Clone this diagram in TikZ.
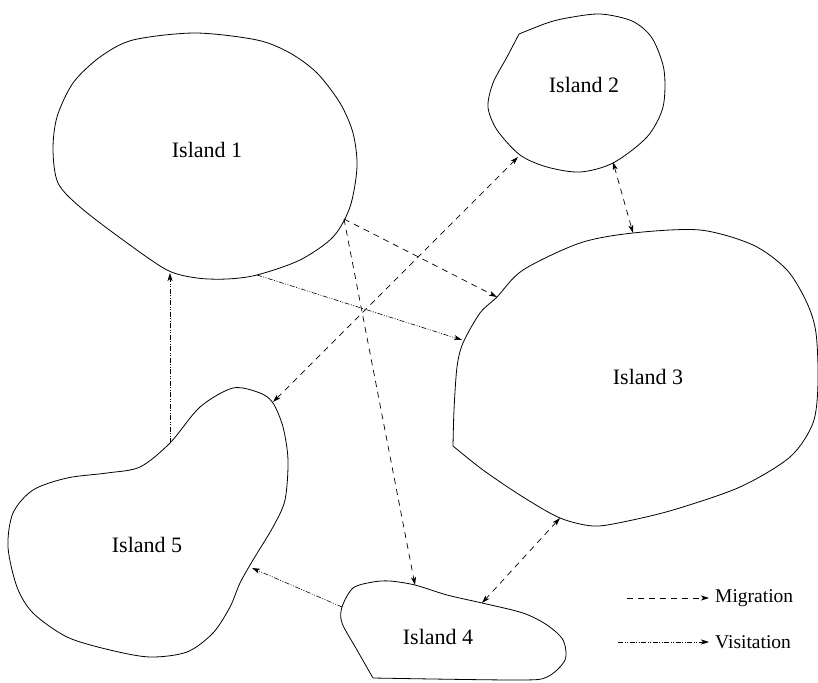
\documentclass[tikz,border=0pt]{standalone}
\usepackage{fontspec}
\setmainfont{Liberation Serif}
\usetikzlibrary{arrows.meta}
\begin{document}
\begin{tikzpicture}[x=1pt,y=-1pt,
  coast/.style={line width=0.8pt},
  mig/.style={line width=0.7pt, dash pattern=on 6pt off 5pt},
  vis/.style={line width=0.6pt, dash pattern=on 5pt off 1.5pt on 1pt off 1.5pt on 1pt off 1.5pt},
  tip/.style={-{Stealth[length=8pt,width=5pt,inset=2pt]}},
  twotips/.style={{Stealth[length=8pt,width=5pt,inset=2pt]}-{Stealth[length=8pt,width=5pt,inset=2pt]}},
  lab/.style={font=\fontsize{22}{26}\selectfont},
  leg/.style={font=\fontsize{19.5}{23}\selectfont, anchor=west, inner sep=0pt}]
\useasboundingbox (0,0) rectangle (818,682);

% Island 1
\draw[coast] plot[smooth cycle] coordinates {
 (195,33) (257,40) (290,53) (317,73) (340,103) (353,133) (357,167) (350,207)
 (333,237) (300,260) (257,275) (227,279) (197,278) (167,270) (123,240) (80,207)
 (58,183) (53,150) (57,117) (73,83) (100,57) (133,40)};
% Island 2
\draw[coast] plot[smooth] coordinates {
 (519,34) (547,23) (567,18) (600,14) (632,21) (652,38) (664,70) (663,107) (647,137)
 (613,163) (580,172) (547,167) (520,155) (497,130) (488,107) (493,83) (507,57) (519,34)};
% Island 3
\draw[coast] plot[smooth] coordinates {
 (453,446) (483,470) (523,497) (560,518) (593,526) (623,522) (673,510) (740,487)
 (790,457) (813,423) (818,383) (816,333) (807,303) (787,270) (753,245) (700,230)
 (633,233) (580,243) (523,270) (497,297) (480,313) (463,343) (457,367) (454,410) (453,446)};
% Island 4
\draw[coast] plot[smooth] coordinates {
 (373,678) (357,650) (342,623) (342,607) (353,588) (373,582) (390,581) (415,585)
 (447,595) (482,603) (523,613) (547,625) (563,640) (565,660) (547,677) (517,680) (373,678)};
% Island 5
\draw[coast] plot[smooth cycle] coordinates {
 (233,388) (260,393) (273,403) (283,427) (288,460) (285,500) (273,527) (253,560)
 (240,583) (230,607) (213,633) (187,652) (150,657) (110,650) (67,637) (33,613)
 (17,587) (8,547) (13,513) (33,490) (67,478) (107,473) (140,467) (170,443) (200,407)};

\node[lab] (l1) at (207,150) {Island 1};
\node[lab] (l2) at (584,85) {Island 2};
\node[lab] (l3) at (648,377) {Island 3};
\node[lab] (l4) at (438,637) {Island 4};
\node[lab] (l5) at (147,545) {Island 5};

% boundary points
\coordinate (p1ne) at (344,219);
\coordinate (p1s) at (257,275);
\coordinate (p1b) at (170,273);
\coordinate (p2sw) at (518,157);
\coordinate (p2s) at (613,162);
\coordinate (p3n) at (633,233);
\coordinate (p3nw) at (497,297);
\coordinate (p3w) at (462,340);
\coordinate (p3s) at (560,518);
\coordinate (p4n) at (415,585);
\coordinate (p4ne) at (482,603);
\coordinate (p4w) at (342,607);
\coordinate (p5ne) at (273,402);
\coordinate (p5e) at (252,568);
\coordinate (p5t) at (170,443);

\draw[mig,tip] (p1ne) -- (p3nw);
\draw[mig,tip] (p1ne) -- (p4n);
\draw[mig,twotips] (p5ne) -- (p2sw);
\draw[mig,twotips] (p2s) -- (p3n);
\draw[mig,twotips] (p3s) -- (p4ne);
\draw[vis,tip] (p1s) -- (p3w);
\draw[vis,tip] (p5t) -- (p1b);
\draw[vis,tip] (p4w) -- (p5e);

% legend
\coordinate (m0) at (627,598);
\node[leg] (mt) at (715,598) {Migration};
\draw[mig,tip] (m0) -- ([xshift=-6pt]mt.west);
\coordinate (v0) at (618,642);
\node[leg] (vt) at (715,642) {Visitation};
\draw[vis,tip] (v0) -- ([xshift=-6pt]vt.west);
\end{tikzpicture}
\end{document}
